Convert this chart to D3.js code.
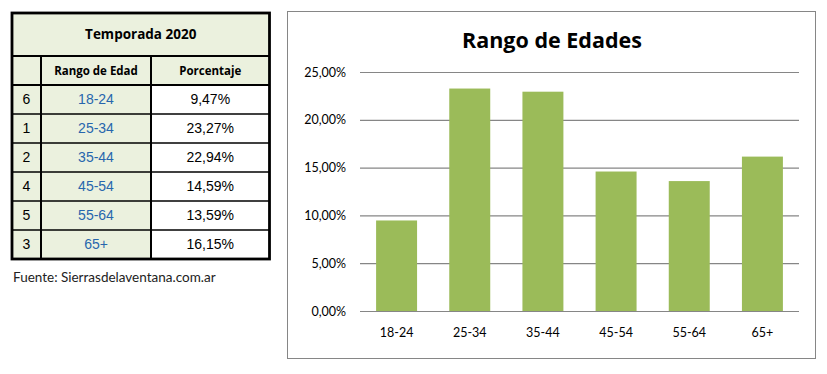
<!DOCTYPE html>
<html>
<head>
<meta charset="utf-8">
<script src="https://cdn.jsdelivr.net/npm/d3@7"></script>
<style>
  body { margin: 0; background: #fff; }
  svg { display: block; }
</style>
</head>
<body>
<div class="canvas"></div>
<script>
'use strict';

// Data
var rowIds = ['6', '1', '2', '4', '5', '3'];
var categories = ['18-24', '25-34', '35-44', '45-54', '55-64', '65+'];
var values = [9.47, 23.27, 22.94, 14.59, 13.59, 16.15];
var yTicks = [0, 5, 10, 15, 20, 25];
var tableTitle = 'Temporada 2020';
var headers = ['', 'Rango de Edad', 'Porcentaje'];
var chartTitle = 'Rango de Edades';
var source = 'Fuente: Sierrasdelaventana.com.ar';

// Spanish number format (decimal comma)
var es = d3.formatLocale({ decimal: ',', thousands: '.', grouping: [3], currency: ['', ' €'] });
var fmt2 = es.format('.2f');

var svg = d3.select('.canvas').append('svg').attr('width', 827).attr('height', 374);

// ---------- Table ----------
var cols = [12, 41, 151, 269.5];
var tTop = 13;
var titleH = 43;
var headH = 29;
var rowH = 29;
var dataTop = tTop + titleH + headH;
var tBottom = dataTop + rowH * rowIds.length;
var green = '#ebf1de';

var table = svg.append('g');

// backgrounds
table.append('rect').attr('x', cols[0]).attr('y', tTop).attr('width', cols[3] - cols[0])
  .attr('height', titleH + headH).attr('fill', green);
table.append('rect').attr('x', cols[0]).attr('y', dataTop).attr('width', cols[2] - cols[0])
  .attr('height', tBottom - dataTop).attr('fill', green);

// title row text
table.append('text').attr('x', (cols[0] + cols[3]) / 2).attr('y', tTop + titleH / 2 + 1)
  .attr('text-anchor', 'middle').attr('dominant-baseline', 'middle')
  .style('font-family', 'Open Sans').style('font-weight', 'bold').style('font-size', '13.5px')
  .text(tableTitle);

// header row text
headers.forEach(function (h, i) {
  table.append('text').attr('x', (cols[i] + cols[i + 1]) / 2).attr('y', tTop + titleH + headH / 2 + 1)
    .attr('text-anchor', 'middle').attr('dominant-baseline', 'middle')
    .style('font-family', 'Open Sans').style('font-weight', 'bold').style('font-size', '11.5px')
    .text(h);
});

// data rows
var rows = table.selectAll('g.row').data(categories).enter().append('g').attr('class', 'row')
  .attr('transform', function (d, i) { return 'translate(0,' + (dataTop + i * rowH) + ')'; });

rows.append('text').attr('x', (cols[0] + cols[1]) / 2).attr('y', rowH / 2 + 1)
  .attr('text-anchor', 'middle').attr('dominant-baseline', 'middle')
  .style('font-family', 'Liberation Sans').style('font-size', '14px').attr('fill', '#000')
  .text(function (d, i) { return rowIds[i]; });

rows.append('text').attr('x', (cols[1] + cols[2]) / 2).attr('y', rowH / 2 + 1)
  .attr('text-anchor', 'middle').attr('dominant-baseline', 'middle')
  .style('font-family', 'Liberation Sans').style('font-size', '14px').attr('fill', '#2766ad')
  .text(function (d) { return d; });

rows.append('text').attr('x', (cols[2] + cols[3]) / 2).attr('y', rowH / 2 + 1)
  .attr('text-anchor', 'middle').attr('dominant-baseline', 'middle')
  .style('font-family', 'Liberation Sans').style('font-size', '14px').attr('fill', '#000')
  .text(function (d, i) { return fmt2(values[i]) + '%'; });

// grid lines of the table
var hLines = [tTop + titleH, dataTop];
for (var r = 1; r < rowIds.length; r++) hLines.push(dataTop + r * rowH);
table.selectAll('line.h').data(hLines).enter().append('line').attr('class', 'h')
  .attr('x1', cols[0]).attr('x2', cols[3])
  .attr('y1', function (d) { return d; }).attr('y2', function (d) { return d; })
  .attr('stroke', '#000').attr('stroke-width', function (d, i) { return i < 2 ? 2 : 1.5; });

table.selectAll('line.v').data([cols[1], cols[2]]).enter().append('line').attr('class', 'v')
  .attr('x1', function (d) { return d; }).attr('x2', function (d) { return d; })
  .attr('y1', tTop + titleH).attr('y2', tBottom)
  .attr('stroke', '#000').attr('stroke-width', 2);

table.append('rect').attr('x', cols[0]).attr('y', tTop).attr('width', cols[3] - cols[0])
  .attr('height', tBottom - tTop).attr('fill', 'none').attr('stroke', '#000').attr('stroke-width', 2.8);

// source note
svg.append('text').attr('x', 13).attr('y', 282)
  .style('font-family', 'Lato').style('font-size', '13.5px').attr('fill', '#222')
  .text(source);

// ---------- Chart ----------
svg.append('rect').attr('x', 287.5).attr('y', 11.5).attr('width', 528).attr('height', 347)
  .attr('fill', '#fff').attr('stroke', '#868686').attr('stroke-width', 1);

svg.append('text').attr('x', 552).attr('y', 47.5).attr('text-anchor', 'middle')
  .style('font-family', 'Open Sans').style('font-weight', 'bold').style('font-size', '21.5px')
  .text(chartTitle);

var margin = { left: 360, top: 72, right: 799, bottom: 311 };

var x = d3.scaleBand().domain(categories).range([margin.left, margin.right])
  .paddingInner(0.44).paddingOuter(0.22);
var y = d3.scaleLinear().domain([0, 25]).range([margin.bottom, margin.top]);

var graph = svg.append('g');

// gridlines
graph.append('g')
  .attr('transform', 'translate(' + margin.left + ',0)')
  .call(d3.axisLeft(y).tickValues(yTicks).tickSize(-(margin.right - margin.left)).tickFormat(''))
  .call(function (g) {
    g.select('.domain').remove();
    g.selectAll('line').attr('stroke', '#868686').attr('stroke-width', 1.2);
  });

// bars
graph.selectAll('rect.bar').data(values).enter().append('rect').attr('class', 'bar')
  .attr('x', function (d, i) { return x(categories[i]); })
  .attr('width', x.bandwidth())
  .attr('y', function (d) { return y(d); })
  .attr('height', function (d) { return y(0) - y(d); })
  .attr('fill', '#9bbb59');

// y labels
var yAxis = graph.append('g').attr('transform', 'translate(346,0)')
  .call(d3.axisLeft(y).tickValues(yTicks).tickSize(0).tickPadding(0)
    .tickFormat(function (d) { return fmt2(d) + '%'; }));
yAxis.select('.domain').remove();
yAxis.selectAll('text').style('font-family', 'Lato').style('font-size', '12.5px').attr('fill', '#000');

// x labels
var xAxis = graph.append('g').attr('transform', 'translate(0,' + margin.bottom + ')')
  .call(d3.axisBottom(x).tickSize(0).tickPadding(17));
xAxis.select('.domain').remove();
xAxis.selectAll('text').style('font-family', 'Lato').style('font-size', '12.5px').attr('fill', '#000');
</script>
</body>
</html>
